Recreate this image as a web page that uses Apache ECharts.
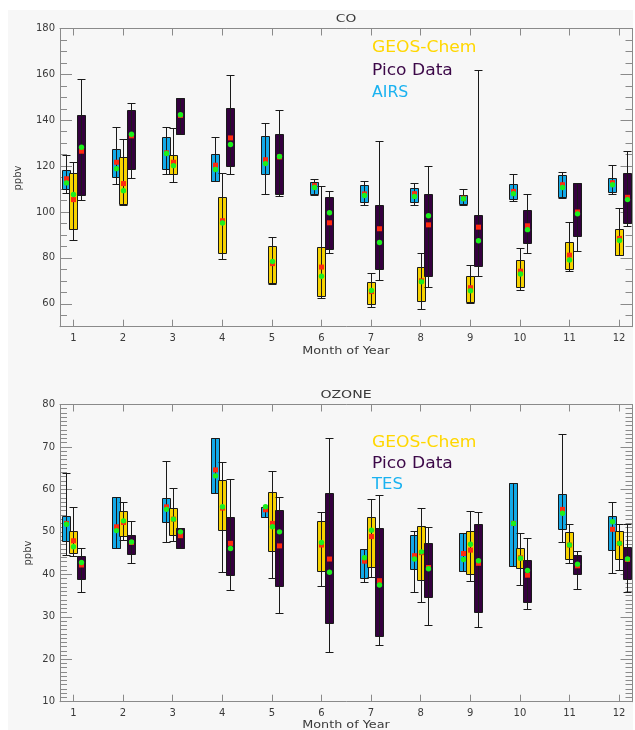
<!DOCTYPE html>
<html><head><meta charset="utf-8">
<script src="https://cdn.jsdelivr.net/npm/echarts@6/dist/echarts.min.js"></script>
<style>html,body{margin:0;padding:0;background:#fff}#c{width:635px;height:730px}</style>
</head><body><div id="c"></div><script>
// ---------------- DATA ----------------
const MONTHS = [1,2,3,4,5,6,7,8,9,10,11,12];
const CO_LABEL_TICKS = [60,80,100,120,140,160,180];
const OZ_LABEL_TICKS = [10,20,30,40,50,60,70,80];
const LEGEND_CO = ['GEOS-Chem','Pico Data','AIRS'];
const LEGEND_OZ = ['GEOS-Chem','Pico Data','TES'];
// rows per month: [whiskerLow, boxLow, boxHigh, whiskerHigh, mean, median]
const coAIRS = [
 [108.3,110,118.2,124.7,114.5,112.7],
 [112.2,115.3,127.6,137.1,121.7,118.9],
 [116.7,118.8,132.5,137.1,125.8,125.5],
 [113.4,113.7,125.5,132.6,120.4,118.5],
 [107.9,116.7,133.2,139,122.8,121.1],
 [107.6,108,112.9,114.5,111.5,110.7],
 [103.2,104.2,111.9,113.7,107.9,107.2],
 [103.2,104.2,110.5,112.7,108,106.8],
 [103.2,103.6,107.4,110.2,106,105.8],
 [105,105.8,112.2,116.7,109,108],
 [106.3,106.5,116,117.3,111.9,110.7],
 [108,108.6,114.8,120.4,112.8,111.9]
];
const coGEOS = [
 [87.9,92.6,117,121.7,105.4,107.6],
 [103,103.5,124,131.7,112.4,109.3],
 [113.1,116.6,124.7,136.7,121.7,120.2],
 [79.4,82.3,106.7,117,96.2,95.2],
 [68.5,69.2,85,88.9,77.5,78.4],
 [62.4,63.4,84.7,111.5,76,72],
 [58.5,59.9,69.4,73.3,65.3,65.8],
 [57.6,61,76.2,82,70,69.6],
 [60.5,60.7,71.9,76.8,67,65.7],
 [66,67.5,79,84.4,74.2,73],
 [74.3,75.3,86.9,95.8,81.2,79.1],
 [81.3,81.3,92.6,101.7,88.5,87.6]
];
const coPICO = [
 [105.4,107.6,142.2,158.1,126.5,128.2],
 [114.7,118.8,144.4,147.4,133.2,133.9],
 [133.9,133.9,149.6,149.6,142.1,142.4],
 [116.6,120.2,145.4,159.7,132.3,129.4],
 [107.1,108,133.9,144.4,124,124.2],
 [82.3,83.8,106.5,109,95.3,99.7],
 [70.4,75.3,103,130.8,92.7,86.7],
 [67.5,71.9,107.9,119.9,94.4,98.4],
 [72.3,76.5,98.5,161.9,93.4,87.5],
 [82.3,86.4,100.7,107.9,94,92.3],
 [83.2,89.5,112.5,112.6,100,99.2],
 [94,95.2,117,126.5,106.4,105.4]
];
const ozTES = [
 [44.6,47.8,53.8,63.9,52,51.8],
 [46.1,46.1,58.1,58.1,51.2,50.3],
 [47.5,52.3,57.9,66.6,55.9,55.3],
 [59.1,59.1,72,72,64.6,63.2],
 [53.6,53.6,55.8,55.8,55.2,55.9],
 null,
 [38.1,39.2,46,46,43.1,43.9],
 [35.8,41.2,49.3,50.3,44.4,43.6],
 [40.9,40.9,49.7,49.7,44.9,43.5],
 [42,42,61.4,61.4,52,52],
 [47.5,50.7,58.9,73,55.3,54.4],
 [40.2,45.7,53.8,57,50.6,52.4]
];
const ozGEOS = [
 [44.3,45,50.3,55.8,47.9,46.5],
 [48.1,49.1,54.8,57,52.2,52.6],
 [47.9,49.3,55.6,60.3,53,53],
 [40.5,50.4,62.1,66.4,55.6,55.9],
 [39.2,45.6,59.5,64.3,52,51.2],
 [37.3,40.8,52.6,54.6,46.9,47.5],
 [39.3,41.8,53.4,57.7,48.9,50.4],
 [33.6,38.7,51.5,55.7,45.1,45.3],
 [38.5,40.1,50.3,55,45.7,47.1],
 [37.5,41.4,46.1,49.7,43.9,43.8],
 [42.6,43.6,49.9,51.8,46.9,46.9],
 [41,43.6,50.3,51.8,47.3,47.3]
];
const ozPICO = [
 [35.9,38.9,44.2,46.1,42.2,42.8],
 [42.6,44.8,49.2,52.6,47.5,47.6],
 [46.1,46.1,51,51,49.1,50],
 [36.3,39.8,53.5,62.4,47.3,46.1],
 [30.8,37.3,55.2,58.1,46.7,50],
 [21.8,28.6,59.1,72,43.6,40.5],
 [23.3,25.5,50.8,58.7,38.5,37.5],
 [28,34.6,47.3,51.1,41.6,41.3],
 [27.5,31.1,51.8,54.6,42.6,43.2],
 [31.8,33.6,43.4,48.6,39.8,40.9],
 [36.5,40,44.6,45.5,42,42.4],
 [35.8,38.8,46.5,51.8,43.5,43.6]
];

// ---------------- STYLE ----------------
const C_BLUE = '#12a9e8', C_GOLD = '#f7d200', C_PURP = '#35003f';
const C_LEG_GOLD = '#ffd700', C_LEG_PURP = '#3c0848', C_LEG_BLUE = '#1ab2f0';
const C_MEAN = '#ff2a10', C_MED = '#1cf01c';
const AXIS_C = '#8a8a8a', TXT_C = '#3a3a3a';
const FONT = '"DejaVu Sans"';
const X_MIN = 0.73, X_MAX = 12.27;

function makeRender(color, offset) {
  return function (params, api) {
    const m = api.value(0);
    const pLow = api.coord([m, api.value(1)]);
    const pQ1 = api.coord([m, api.value(2)]);
    const pQ3 = api.coord([m, api.value(3)]);
    const pHigh = api.coord([m, api.value(4)]);
    const pMean = api.coord([m, api.value(5)]);
    const pMed = api.coord([m, api.value(6)]);
    const ci = Math.round(pLow[0] + offset);
    const cx = ci + 0.5;
    const hw = 4;
    const yr = v => Math.round(v) + 0.5;
    const stroke = '#1a1a1a';
    const ls = { stroke: stroke, lineWidth: 1 };
    return {
      type: 'group',
      children: [
        { type: 'rect', shape: { x: cx - hw, y: yr(pQ3[1]), width: hw * 2, height: Math.max(1, Math.round(pQ1[1]) - Math.round(pQ3[1])) },
          style: { fill: color, stroke: stroke, lineWidth: 1 } },
        { type: 'line', shape: { x1: cx, y1: yr(pHigh[1]), x2: cx, y2: yr(pLow[1]) }, style: ls },
        { type: 'line', shape: { x1: cx - hw, y1: yr(pHigh[1]), x2: cx + hw, y2: yr(pHigh[1]) }, style: ls },
        { type: 'line', shape: { x1: cx - hw, y1: yr(pLow[1]), x2: cx + hw, y2: yr(pLow[1]) }, style: ls },
        { type: 'rect', shape: { x: cx - 2.5, y: pMean[1] - 2.5, width: 5, height: 5 }, style: { fill: C_MEAN } },
        { type: 'circle', shape: { cx: cx, cy: pMed[1], r: 2.7 }, style: { fill: C_MED } }
      ]
    };
  };
}

function boxSeries(name, rows, color, offset, xi, yi) {
  const data = rows.map((r, i) => r ? [MONTHS[i]].concat(r) : null).filter(d => d);
  return {
    type: 'custom', name: name, xAxisIndex: xi, yAxisIndex: yi,
    renderItem: makeRender(color, offset), data: data, z: 3,
    encode: { x: 0, y: [1, 2, 3, 4, 5, 6] }
  };
}

function xAxes(gi) {
  const base = {
    type: 'value', gridIndex: gi, min: X_MIN, max: X_MAX, splitLine: { show: false },
    axisLine: { show: true, onZero: false, lineStyle: { color: AXIS_C, width: 1 } },
    axisTick: { show: true, inside: true, length: 7, customValues: MONTHS, lineStyle: { color: AXIS_C } }
  };
  return [
    Object.assign({}, base, { position: 'bottom',
      axisLabel: { show: true, customValues: MONTHS, margin: 7, fontSize: 10, color: TXT_C, fontFamily: FONT } }),
    Object.assign({}, base, { position: 'top', axisLabel: { show: false } })
  ];
}

const grid = [
  { left: 60, top: 28.5, width: 572.5, height: 298.2 },
  { left: 60, top: 404.5, width: 572.5, height: 297.2 }
];

const yCO = [50, 180];
const yAxisArr = [];
['left', 'right'].forEach(pos => {
  yAxisArr.push({
    type: 'value', gridIndex: 0, min: yCO[0], max: yCO[1], position: pos, splitLine: { show: false },
    axisLine: { show: true, onZero: false, lineStyle: { color: AXIS_C, width: 1 } },
    axisTick: { show: true, inside: true, length: 12, customValues: CO_LABEL_TICKS, lineStyle: { color: AXIS_C } },
    axisLabel: { show: pos === 'left', customValues: CO_LABEL_TICKS, margin: 5, fontSize: 10, color: TXT_C, fontFamily: FONT }
  });
  yAxisArr.push({
    type: 'value', gridIndex: 0, min: yCO[0], max: yCO[1], interval: 5, position: pos, splitLine: { show: false },
    axisLine: { show: false },
    axisTick: { show: true, inside: true, length: 7, lineStyle: { color: AXIS_C } },
    axisLabel: { show: false }
  });
});
['left', 'right'].forEach(pos => {
  yAxisArr.push({
    type: 'value', gridIndex: 1, min: 10, max: 80, interval: 10, position: pos, splitLine: { show: false },
    axisLine: { show: true, onZero: false, lineStyle: { color: AXIS_C, width: 1 } },
    axisTick: { show: true, inside: true, length: 12, lineStyle: { color: AXIS_C } },
    minorTick: { show: true, splitNumber: 10, length: 7, lineStyle: { color: AXIS_C } },
    axisLabel: { show: pos === 'left', customValues: OZ_LABEL_TICKS, margin: 5, fontSize: 10, color: TXT_C, fontFamily: FONT }
  });
});

function txt(t, x, y, opts) {
  return Object.assign({
    type: 'text', x: x, y: y, z: 10,
    style: Object.assign({ text: t, fill: TXT_C, font: '10px ' + FONT, textAlign: 'center', textVerticalAlign: 'middle' }, opts.style || {})
  }, opts.el || {});
}

const legendFont = '15px ' + FONT;
const graphic = [
  { type: 'rect', z: -100, silent: true, shape: { x: 8, y: 10, width: 625, height: 720 }, style: { fill: '#f7f7f7' } },
  txt('CO', 346, 19, { style: { font: '11px ' + FONT }, el: { scaleX: 1.25 } }),
  txt('OZONE', 346, 395, { style: { font: '11px ' + FONT }, el: { scaleX: 1.28 } }),
  txt('Month of Year', 346, 351, { style: { font: '10px ' + FONT }, el: { scaleX: 1.28 } }),
  txt('Month of Year', 346, 725.5, { style: { font: '10px ' + FONT }, el: { scaleX: 1.28 } }),
  txt('ppbv', 18, 178, { style: { font: '10px ' + FONT }, el: { rotation: Math.PI / 2 } }),
  txt('ppbv', 28, 553, { style: { font: '10px ' + FONT }, el: { rotation: Math.PI / 2 } }),
  txt(LEGEND_CO[0], 372, 47.7, { style: { font: legendFont, fill: C_LEG_GOLD, textAlign: 'left' }, el: { scaleX: 1.14 } }),
  txt(LEGEND_CO[1], 372, 70.7, { style: { font: legendFont, fill: C_LEG_PURP, textAlign: 'left' }, el: { scaleX: 1.14 } }),
  txt(LEGEND_CO[2], 372, 93.3, { style: { font: legendFont, fill: C_LEG_BLUE, textAlign: 'left' }, el: { scaleX: 1.05 } }),
  txt(LEGEND_OZ[0], 372, 442.7, { style: { font: legendFont, fill: C_LEG_GOLD, textAlign: 'left' }, el: { scaleX: 1.14 } }),
  txt(LEGEND_OZ[1], 372, 464.3, { style: { font: legendFont, fill: C_LEG_PURP, textAlign: 'left' }, el: { scaleX: 1.14 } }),
  txt(LEGEND_OZ[2], 372, 485, { style: { font: legendFont, fill: C_LEG_BLUE, textAlign: 'left' }, el: { scaleX: 1.1 } })
];

const option = {
  backgroundColor: '#ffffff',
  animation: false,
  textStyle: { fontFamily: FONT },
  grid: grid,
  xAxis: xAxes(0).concat(xAxes(1)),
  yAxis: yAxisArr,
  graphic: graphic,
  series: [
    boxSeries('AIRS', coAIRS, C_BLUE, -7, 0, 0),
    boxSeries('GEOS-Chem', coGEOS, C_GOLD, 0, 0, 0),
    boxSeries('Pico Data', coPICO, C_PURP, 7.5, 0, 0),
    boxSeries('TES', ozTES, C_BLUE, -7, 2, 4),
    boxSeries('GEOS-Chem', ozGEOS, C_GOLD, 0, 2, 4),
    boxSeries('Pico Data', ozPICO, C_PURP, 7.5, 2, 4)
  ]
};
const chart = echarts.init(document.getElementById('c'), null, { renderer: 'canvas' });
chart.setOption(option);
</script></body></html>
